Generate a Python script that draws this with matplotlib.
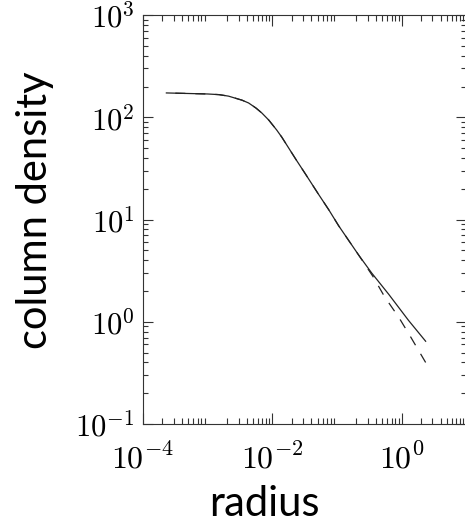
import math
import matplotlib
matplotlib.use('Agg')
import matplotlib.pyplot as plt
from matplotlib.ticker import LogLocator, FuncFormatter, NullFormatter

plt.rcParams['mathtext.fontset'] = 'cm'

# values
radius = [2.3e-4, 1.0e-3, 1.5e-3, 2.1e-3, 3.4e-3, 4.3e-3, 5.6e-3, 6.9e-3, 8.8e-3,
          0.0117, 0.014, 0.023, 0.033, 0.052, 0.075, 0.106, 0.216, 0.344,
          0.63, 1.28, 2.35]
density = [173, 169, 166.5, 161, 147, 138, 123, 110, 94,
           75, 64, 39, 27.5, 17.6, 12.4, 8.7, 4.5, 3.0,
           1.86, 1.03, 0.645]

radius_pl = [2.3e-4, 1.0e-3, 1.5e-3, 2.1e-3, 3.4e-3, 4.3e-3, 5.6e-3, 6.9e-3, 8.8e-3,
             0.0117, 0.014, 0.023, 0.033, 0.052, 0.075, 0.106, 0.216, 0.357,
             0.547, 0.90, 1.38, 2.35]
density_pl = [173, 169, 166.5, 161, 147, 138, 123, 110, 94,
              75, 64, 39, 27.5, 17.6, 12.4, 8.7, 4.5, 2.80,
              1.75, 1.11, 0.71, 0.40]

xlim = (1e-4, 1e1)
ylim = (1e-1, 1e3)

fig = plt.figure(figsize=(4.65, 5.22), dpi=100)
ax = fig.add_axes([0.3075, 0.1877, 0.6953, 0.7835])

ax.plot(radius, density, color='#222222', lw=0.9)
# drawn from the outer end so the dash pattern finishes on a dash
ax.plot(radius_pl[::-1], density_pl[::-1], color='#222222', lw=0.9, dashes=(8, 8))

ax.set_xscale('log')
ax.set_yscale('log')
ax.set(xlim=xlim, ylim=ylim)


def pow10(v, pos=None):
    return r'$10^{%d}$' % round(math.log10(v))


def pow10_even(v, pos=None):
    e = round(math.log10(v))
    return pow10(v) if e % 2 == 0 else ''


for axis in (ax.xaxis, ax.yaxis):
    axis.set_major_locator(LogLocator(base=10))
    axis.set_minor_locator(LogLocator(base=10, subs=range(2, 10), numticks=50))
    axis.set_minor_formatter(NullFormatter())
ax.xaxis.set_major_formatter(FuncFormatter(pow10_even))
ax.yaxis.set_major_formatter(FuncFormatter(pow10))

ax.tick_params(which='both', direction='in', top=True, right=True, width=0.8, color='#333333')
ax.tick_params(axis='x', which='major', length=8, pad=14, labelsize=23)
ax.tick_params(axis='x', which='minor', length=4.3)
ax.tick_params(axis='y', which='major', length=7, pad=6, labelsize=22)
ax.tick_params(axis='y', which='minor', length=3.6)
for s in ax.spines.values():
    s.set_linewidth(0.8)
    s.set_color('#333333')

fig.text(264 / 465, 6 / 522, 'radius', family='Lato', fontsize=30, ha='center', va='baseline')
fig.text(35 / 465, 1 - 210 / 522, 'column density', family='Lato', fontsize=30,
         rotation=90, ha='center', va='center')

fig.savefig('out.png', dpi=100)
